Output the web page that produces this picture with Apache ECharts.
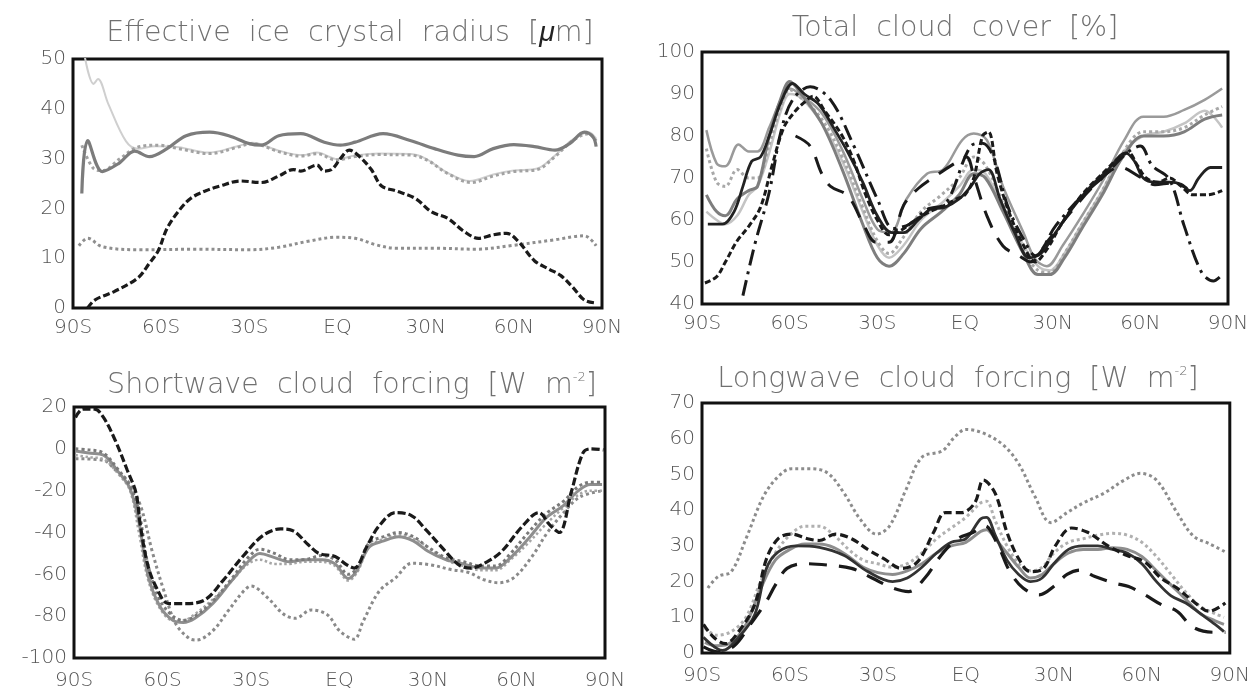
<!DOCTYPE html>
<html>
<head>
<meta charset="utf-8">
<script src="https://cdn.jsdelivr.net/npm/echarts@6/dist/echarts.min.js"></script>
<style>html,body{margin:0;padding:0;background:#fff}#c{width:1253px;height:694px}</style>
</head>
<body>
<div id="c"></div>
<script>
// ---------- tick labels ----------
const latTicks = {'-90':'90S','-60':'60S','-30':'30S','0':'EQ','30':'30N','60':'60N','90':'90N'};

// ---------- Panel 1: Effective ice crystal radius [um] ----------
const iceBlackDash = [[-85,0],[-82.6,1.6],[-76,3.3],[-68,6],[-64,9],[-61,11.5],[-58,16],[-54,19.5],[-50,22],[-45,23.5],[-40,24.5],[-33,25.5],[-26,25.2],[-20,26.5],[-15,27.8],[-12.5,27.5],[-7,28.7],[-4.6,27.5],[-2,27.8],[1,30],[4,31.7],[7.5,30.4],[11.5,27.8],[15,24.5],[20,23.5],[26.5,22],[32,19.3],[37.5,18],[43,15.4],[48,14],[53,14.7],[57.5,15],[61.5,13.4],[67,9.5],[72,7.8],[76,6.5],[80,4.2],[84,1.6],[88,1]];
const iceLow = [[-88,12.5],[-85,14],[-80,12.3],[-68,11.7],[-48,11.8],[-30,11.7],[-20,12.2],[-10,13.4],[-0.5,14.2],[6,14],[13,12.7],[20,12],[33,12],[47,11.8],[60,12.6],[74,13.7],[84,14.5],[88,12.5]];
const iceUpper = [[-87,23],[-85,33.6],[-80,27.4],[-74.5,29],[-69,31.5],[-64,30.4],[-58,32],[-51.5,34.6],[-43.5,35.3],[-37,34.6],[-30,33],[-26,32.7],[-20,34.6],[-12.5,35],[-4.5,33.3],[1,32.7],[6,33.3],[15.5,35],[25,33.6],[33,32],[41,30.7],[46.5,30.4],[53,32],[60,32.8],[67,32.4],[74,31.7],[79,33],[84,35.3],[87,34.3],[88,32.4]];
const iceMid = [[-87,32.7],[-83,28],[-80,27.6],[-74,30],[-68,32.3],[-61,32.7],[-54,32],[-43.5,31],[-34,32.3],[-29,33],[-20,31.4],[-12.5,30.5],[-7,31],[-0.5,29.7],[6,30.4],[14,30.8],[25,30.7],[30.5,29.7],[37.5,27],[45.5,25.2],[53,26.5],[60,27.4],[68,27.8],[74,30.4],[80,33.6],[85.5,35],[88,33.6]];
const iceLight = [[-86,50.5],[-83,45],[-81.5,46],[-78,41],[-72,33.5],[-68,32],[-62,32.5],[-54,32.3],[-44,31.2],[-34,32.5],[-29,33.2],[-20,31.6],[-12,30.7],[-7,31.2],[0,29.9],[6,30.6],[14,31],[25,30.9],[30,30],[37,27.3],[45,25.5],[53,26.8],[60,27.6],[68,28],[74,30.6],[80,33.8],[85.5,35.3],[88,34]];

// ---------- Panel 2: Total cloud cover [%] ----------
const cldGrayA = [[-88.5,81.4],[-85,73.5],[-82,72.8],[-77.5,78],[-74,76.3],[-71,76.3],[-67,82],[-63,88.6],[-60,91.3],[-56,89.7],[-49,85.4],[-42,76.7],[-35,65],[-30,57.8],[-25.5,57],[-20,65],[-13,71],[-7.5,72],[-1,79],[3,80.6],[7.5,79],[13,68],[20,57],[24,50.7],[28,49],[33.5,54],[40,61],[47.5,69.7],[54.5,79],[61,84.6],[68,84.6],[75,86.2],[82,88.6],[88,91.3]];
const cldGrayB = [[-88.5,77],[-85,69],[-82,68],[-78,72],[-74,70],[-71,70],[-67,78],[-63,87],[-60,91],[-56,89],[-49,84],[-42,75],[-35,63],[-30,55],[-26,52],[-21,56],[-15,62],[-8,66],[-2,70],[3,75],[7,73],[13,64],[20,53],[25,48],[29,47.5],[34,52],[40,59],[47,67],[54,76],[61,81],[68,81],[75,82],[82,85],[88,87]];
const cldGrayC = [[-88.5,66],[-85,62],[-82,61],[-78,65],[-74,67],[-71,68],[-67,80],[-63,89],[-60,93],[-56,90],[-49,83],[-42,72],[-35,59],[-30,51],[-26,49],[-21,52],[-15,58],[-8,62],[-2,66],[3,71],[7,70],[13,62],[20,52],[25,47],[29,47],[34,51],[40,58],[47,66],[54,75],[61,80],[68,80],[75,81],[82,84],[88,85]];
const cldGrayD = [[-88.5,62],[-85,60],[-82,59],[-78,61],[-74,66],[-71,68],[-67,76],[-63,86],[-60,90],[-56,89],[-49,83],[-42,74],[-35,62],[-30,54],[-26,51],[-21,54],[-15,60],[-8,64],[-2,68],[3,72],[7,71],[13,63],[20,54],[25,49],[29,48],[34,52],[40,59],[47,67],[54,76],[61,80],[68,81],[75,83],[82,86],[88,82]];
const cldBlackSolid = [[-88,59],[-83,59],[-79,62],[-76,68],[-73,74],[-70,75],[-67,80],[-63,88],[-59,92.5],[-55,90],[-50,87.5],[-45,82],[-40,76],[-35,69],[-30,61],[-25,57],[-21,57],[-16,60],[-12,62.5],[-7,63],[-2,65],[2,68],[5,71],[8,72],[12,65],[17,57],[22,51],[26,52],[31,57],[37,63],[43,68],[49,72],[55,76],[58,74],[61,70],[65,69],[70,69],[74,68.5],[77,67],[80,70],[84,72.5],[88,72.5]];
const cldBlackDash = [[-89,45],[-85,46.5],[-82,50],[-78,55],[-74,58.5],[-70,63],[-66,73],[-62,82],[-58,86],[-55,88],[-52,89.5],[-48,86],[-42,80],[-38,74],[-34,66],[-30,60],[-26,56.5],[-22,57.5],[-17,60],[-12,62],[-7,63.5],[-3,65],[0,66],[3,70],[6,80],[8,81],[11,71],[15,62],[20,54],[24,50],[28,53],[33,59],[40,66],[47,71],[53,75],[56,76],[59,73],[62,70],[66,69],[70,70],[74,68],[78,66],[83,66],[88,67]];
const cldDashDot = [[-76,42],[-72,54],[-67,66.6],[-63,81],[-59,88.6],[-53,91.7],[-46,88.6],[-38,77.6],[-30,65],[-24.5,58],[-19,59],[-13,62.5],[-6.5,64],[2,77.6],[6,78.3],[10,74.5],[14.5,63.5],[20,55.5],[24,51.5],[31,58.6],[40,65.7],[47.5,70.4],[55.5,76],[60,77.6],[64,73],[70,69.6],[75,58.6],[81,47.5],[85,45.5],[88,47]];
const cldLongDash = [[-58,80],[-53,77.6],[-49,71],[-46,68],[-40,65.7],[-34.5,58.6],[-30.5,54.7],[-26,54.7],[-21,63.5],[-16,67.5],[-9,71],[-3.5,73.5],[0.5,75],[3,70.4],[7.5,61],[13,53.8],[18.5,51.5],[22.5,50],[28,54.7],[36,61.7],[44,68],[53,72.6],[59.5,70.4],[65,68.4],[71,68.8],[76,67.5]];

// ---------- Panel 3: Shortwave cloud forcing [W m-2] ----------
const swBlackDash = [[-89.5,15],[-87,19],[-83,19],[-80,15],[-76,4],[-72,-10],[-69,-21],[-67.5,-36.7],[-65,-55.5],[-62,-66.5],[-58,-74],[-53,-74],[-46,-72.5],[-39.5,-63],[-32.5,-51],[-26,-41.5],[-20,-38.3],[-16,-39],[-10.5,-46],[-7,-50],[-1.5,-51.5],[2.5,-55.5],[5,-57],[9.5,-46],[13.5,-36.7],[19,-30.5],[24.5,-32],[29.5,-39],[35,-47.6],[40.5,-55.5],[44.5,-57],[50,-54],[55,-49],[62,-37],[67.5,-30.5],[71.5,-36.7],[74.5,-40],[78.5,-21],[82.5,-2],[85,0],[89.5,-0.5]];
const swGrayLow = [[-89.5,-4.7],[-80,-5.5],[-76,-10],[-72,-15],[-67.5,-27],[-63.5,-49],[-59.5,-68],[-55.5,-83.6],[-51,-90.6],[-48.5,-91.4],[-43,-87],[-37.5,-77],[-32.5,-68],[-30,-65.6],[-24.5,-71],[-19,-79],[-15,-81],[-9.5,-77],[-4,-79.5],[0,-87],[5,-91],[8,-82.5],[13.5,-68],[19,-61.7],[24.5,-54.7],[31,-55.5],[38,-57.8],[43.5,-59],[49,-62.6],[54,-64],[59,-61.7],[65,-52],[70.5,-40],[76,-30.5],[81.5,-23],[89.5,-20]];
const swGrayA = [[-89.5,0],[-85,-0.5],[-80,-2],[-75,-10],[-71,-18],[-68,-30],[-65,-55],[-61,-72],[-56.5,-80],[-53,-82],[-49,-80],[-43,-73],[-36.5,-62],[-31,-52],[-27,-48],[-22,-50],[-17,-53],[-12,-53],[-6,-51],[-1.5,-53],[3,-60],[6,-57],[10,-45],[15,-42],[20,-40],[25,-42],[30,-47],[36,-52],[42,-54],[48,-56],[53,-56],[58,-50],[64,-40],[70,-31],[76,-25],[81,-18],[85,-16],[89,-16]];
const swGrayB = [[-89.5,-1],[-85,-2],[-80,-3],[-75,-11],[-71,-19],[-68,-35],[-65,-60],[-61,-75],[-56.5,-82],[-53,-83],[-49,-81],[-43,-74],[-36.5,-63],[-31,-54],[-27,-50],[-22,-52],[-17,-54],[-12,-53],[-6,-53],[-1.5,-55],[3,-62],[6,-58],[10,-47],[15,-44],[20,-42],[25,-44],[30,-49],[36,-53],[42,-55],[48,-57],[53,-57],[58,-52],[64,-43],[70,-33],[76,-27],[81,-20],[85,-17],[89,-17]];
const swGrayC = [[-89.5,-3],[-85,-4],[-80,-5],[-75,-12],[-71,-20],[-68,-40],[-65,-62],[-61,-76],[-56.5,-82],[-53,-82],[-49,-79],[-43,-72],[-36.5,-63],[-31,-55],[-27,-53],[-22,-55],[-17,-55],[-12,-54],[-6,-54],[-1.5,-56],[3,-63],[6,-59],[10,-47],[15,-43],[20,-41],[25,-43],[30,-47],[36,-53],[42,-56],[48,-58],[53,-58],[58,-53],[64,-45],[70,-36],[76,-28],[81,-22],[85,-20],[89,-20]];

// ---------- Panel 4: Longwave cloud forcing [W m-2] ----------
const lwGrayTop = [[-88,18.2],[-84.5,21.4],[-80,22.8],[-75,32],[-69,43.9],[-64,49.4],[-59.5,51.6],[-52.5,51.6],[-47,50.3],[-41.5,44.7],[-36,37.4],[-30.5,33.3],[-26,35.6],[-20.5,45.6],[-15,54.8],[-8,56.6],[-4,60.3],[0,62.6],[5.5,61.7],[12.5,58.4],[18,53],[23.5,43.9],[29,36.5],[34.5,39.3],[40,42],[47,44.7],[54,48.4],[59.5,50.3],[65,48.4],[72,39.3],[77.5,32.8],[83,30.6],[88.5,28.3]];
const lwBlackDash = [[-89.5,8],[-86,4.4],[-82,2.6],[-77.5,6],[-72,13.6],[-68,26.4],[-64,32],[-59.5,33.3],[-54,32],[-50,31.5],[-44.5,33.3],[-39,32],[-33.5,29],[-28,26.4],[-22,23.7],[-16.5,25.5],[-11,33.8],[-7,39.3],[-1.5,39.3],[3,42],[6,48.4],[10,44.7],[14,33.8],[18,26.4],[22,22.8],[26.5,23.7],[30.5,30],[36,35],[41.5,33.8],[48.5,30],[55,27.3],[61,25.5],[66.5,21],[72,18.2],[77.5,14.5],[83,11.7],[88.5,14]];
const lwLongDash = [[-89.5,1.7],[-84.5,0.3],[-79,2],[-73.5,8],[-68,14.5],[-65,19],[-61,23.7],[-55,25],[-47,24.6],[-39,23.7],[-32,21],[-25,18.2],[-19.5,17.2],[-14,21],[-8.5,27.3],[-3,31.9],[2.5,33.8],[6.5,35.6],[11,30],[15,22.8],[19.5,18.2],[25,16.3],[30.5,19],[34.5,22],[39,23.2],[44,21.4],[51,19.5],[55.5,18.6],[61,16.3],[66.5,13.6],[72,11.7],[77.5,7.2],[84.5,5.8],[88.5,5.8]];
const lwBlackSolid = [[-89.5,4.4],[-83,0.7],[-77.5,4.4],[-72,10.8],[-68,23.7],[-64,28.3],[-58,30],[-50,29.6],[-41.5,27.3],[-33.5,22.8],[-25,20],[-20,21],[-15,24],[-10,28],[-5,31],[0,32],[5,37.5],[7,38],[10,33],[14,26],[18,22],[22,20],[26,21],[30,25],[35,29],[40,30],[45,30],[50,29],[55,28],[60,25],[65,20],[70,16],[75,14],[80,11],[85,8],[88,6]];
const lwGrayLight = [[-89,7],[-85,5],[-80,6],[-75,10],[-70,20],[-65,28],[-60,33],[-55,35.5],[-50,35.5],[-45,33],[-40,29],[-35,26],[-30,25],[-25,24],[-20,25],[-15,28],[-10,32],[-5,35],[0,38],[5,42],[7,42.5],[10,37],[14,30],[18,25],[22,23],[26,24],[30,28],[35,31],[40,32],[45,33],[50,33.5],[55,33],[60,31],[65,27],[70,22],[75,17],[80,13],[85,11],[88,10]];
const lwGrayMid = [[-89,3],[-85,2],[-80,3],[-75,8],[-70,18],[-65,26],[-60,29],[-55,30.5],[-50,30.5],[-45,29.5],[-40,27],[-35,24],[-30,22.5],[-25,22],[-20,23],[-15,25],[-10,28],[-5,30],[0,31],[5,34],[7,34.5],[10,32],[14,28],[18,24],[22,21],[26,22],[30,25],[35,28],[40,29],[45,29],[50,29.5],[55,29],[60,27],[65,23],[70,19],[75,15],[80,11],[85,9],[88,8]];

// ---------- build ----------
const FONT = 'Liberation Sans';
const TFONT = "'DejaVu Sans ExtraLight', 'DejaVu Sans'";
const grids = [
  {left:73, top:59, width:529, height:249},
  {left:702, top:52, width:526, height:252},
  {left:74, top:407, width:531, height:251},
  {left:702, top:403, width:528, height:250}
];
const yRanges = [[0,50,10],[40,100,10],[-100,20,20],[0,70,10]];
const labelMargins = [10, 10, 13, 13];
const titles = [
  {text:'Effective  ice  crystal  radius  [{mu|μ}m]', x:345, y:14},
  {text:'Total  cloud  cover  [%]', x:950, y:9},
  {text:'Shortwave  cloud  forcing  [W  m{sup|-2}]', x:347, y:366},
  {text:'Longwave  cloud  forcing  [W  m{sup|-2}]', x:953, y:360}
];
function ln(gi, data, color, width, type, z) {
  return {type:'line', xAxisIndex:gi, yAxisIndex:gi, data:data, showSymbol:false, smooth:0.35,
    lineStyle:{color:color, width:width, type:type||'solid'}, z:z||2, silent:true};
}
const series = [
  ln(0, iceLight, '#cfcfcf', 2, 'solid'),
  ln(0, iceMid, '#a2a2a2', 3, 'dotted'),
  ln(0, iceUpper, '#7c7c7c', 3.2, 'solid'),
  ln(0, iceLow, '#8e8e8e', 3, 'dotted'),
  ln(0, iceBlackDash, '#1a1a1a', 3.2, [7,3], 5),

  ln(1, cldGrayD, '#c4c4c4', 2.5, 'solid'),
  ln(1, cldGrayA, '#9a9a9a', 2.5, 'solid'),
  ln(1, cldGrayB, '#a8a8a8', 3, 'dotted'),
  ln(1, cldGrayC, '#7e7e7e', 3, 'solid'),
  ln(1, cldBlackSolid, '#222', 2.8, 'solid', 4),
  ln(1, cldBlackDash, '#1a1a1a', 3, [6,3], 5),
  ln(1, cldDashDot, '#1a1a1a', 3, [16,6,3,6], 5),
  ln(1, cldLongDash, '#1a1a1a', 3, [18,12], 5),

  ln(2, swGrayLow, '#8a8a8a', 3, 'dotted'),
  ln(2, swGrayC, '#a6a6a6', 2.5, 'dotted'),
  ln(2, swGrayB, '#8e8e8e', 3, 'solid'),
  ln(2, swGrayA, '#7a7a7a', 3, 'dotted'),
  ln(2, swBlackDash, '#1a1a1a', 3.2, [8,3], 5),

  ln(3, lwGrayTop, '#8c8c8c', 3, 'dotted'),
  ln(3, lwGrayLight, '#b0b0b0', 3, 'dotted'),
  ln(3, lwGrayMid, '#8e8e8e', 3, 'solid'),
  ln(3, lwBlackSolid, '#333', 2.8, 'solid', 4),
  ln(3, lwLongDash, '#1a1a1a', 3.2, [18,12], 5),
  ln(3, lwBlackDash, '#1a1a1a', 3.2, [8,4], 5)
];
const option = {
  animation:false,
  backgroundColor:'#fff',
  title: titles.map(t => ({text:t.text, left:t.x, top:t.y, textAlign:'center',
    textStyle:{fontFamily:TFONT, fontSize:28.5, fontWeight:200, color:'#707070',
      rich:{sup:{fontSize:13, verticalAlign:'top', color:'#707070', fontFamily:TFONT, fontWeight:200, padding:[0,0,14,0]},
            mu:{fontSize:28.5, color:'#222', fontStyle:'italic', fontFamily:FONT}}}})),
  grid: grids.map(g => Object.assign({show:true, borderColor:'#111', borderWidth:3, backgroundColor:'transparent'}, g)),
  xAxis: grids.map((g,i) => ({type:'value', gridIndex:i, min:-90, max:90, interval:30,
    axisLine:{show:false}, axisTick:{show:false}, splitLine:{show:false},
    axisLabel:{margin:labelMargins[i], fontFamily:TFONT, fontWeight:200, fontSize:20, color:'#555', formatter:v => latTicks[String(v)]}})),
  yAxis: grids.map((g,i) => ({type:'value', gridIndex:i, min:yRanges[i][0], max:yRanges[i][1], interval:yRanges[i][2],
    axisLine:{show:false}, axisTick:{show:false}, splitLine:{show:false},
    axisLabel:{margin:7, fontFamily:TFONT, fontWeight:200, fontSize:20, color:'#555'}})),
  series: series
};
const chart = echarts.init(document.getElementById('c'), null, {renderer:'canvas'});
chart.setOption(option);
</script>
</body>
</html>
